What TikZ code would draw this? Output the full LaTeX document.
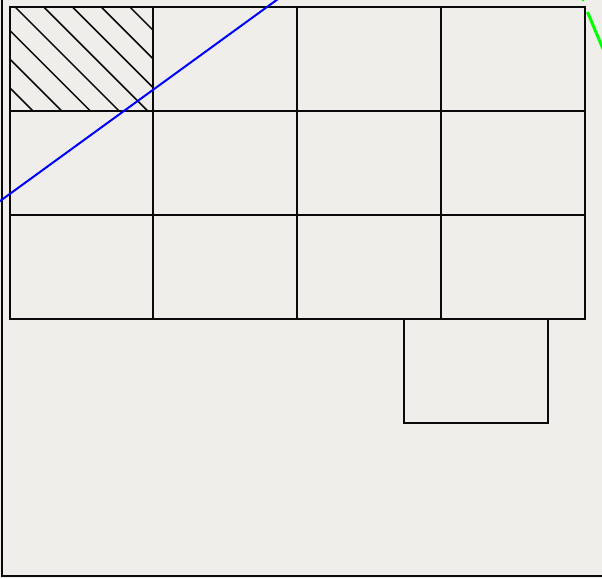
\documentclass[tikz,border=0pt]{standalone}
\usepackage{tikz}
\definecolor{bgc}{RGB}{239,238,234}
\definecolor{gridc}{RGB}{10,10,10}
\begin{document}
\begin{tikzpicture}[x=1pt,y=-1pt,
  cellbox/.style={draw=gridc,line width=1.8pt},
  hatchline/.style={draw=gridc,line width=1.5pt},
  blueline/.style={draw=blue,line width=2pt},
  greenline/.style={draw=green,line width=3pt}]
\fill[bgc] (0,0) rectangle (602,578);
\useasboundingbox (0,0) rectangle (602,578);
% outer frame (left and bottom visible)
\draw[line width=1.8pt,draw=gridc] (2,-5) -- (2,576) -- (610,576);
% hatch
\begin{scope}
\clip (11,8) rectangle (152,110);
\foreach \k in {0,...,8} {
  \pgfmathsetmacro{\c}{-78+28.7*\k}
  \draw[hatchline] (\c+7-2,7-2) -- (\c+111+2,111+2);
}
\end{scope}
% grid
\foreach \xa/\xb in {10/153,153/297,297/441,441/585} {
  \foreach \ya/\yb in {7/111,111/215,215/319} {
    \draw[cellbox] (\xa,\ya) rectangle (\xb,\yb);
  }
}
% extra box
\draw[cellbox] (404,319) rectangle (548,423);
% blue line
\coordinate (b1) at (-2,202.5);
\coordinate (b2) at (278,-1);
\draw[blueline] (b1) -- (b2);
% green line
\coordinate (g1) at (587.5,12);
\coordinate (g2) at (603,49);
\draw[greenline] (g1) -- (g2);
\coordinate (g3) at (582.5,-1);
\coordinate (g4) at (583.3,1);
\draw[line width=2pt,draw=green] (g3) -- (g4);
\end{tikzpicture}
\end{document}
